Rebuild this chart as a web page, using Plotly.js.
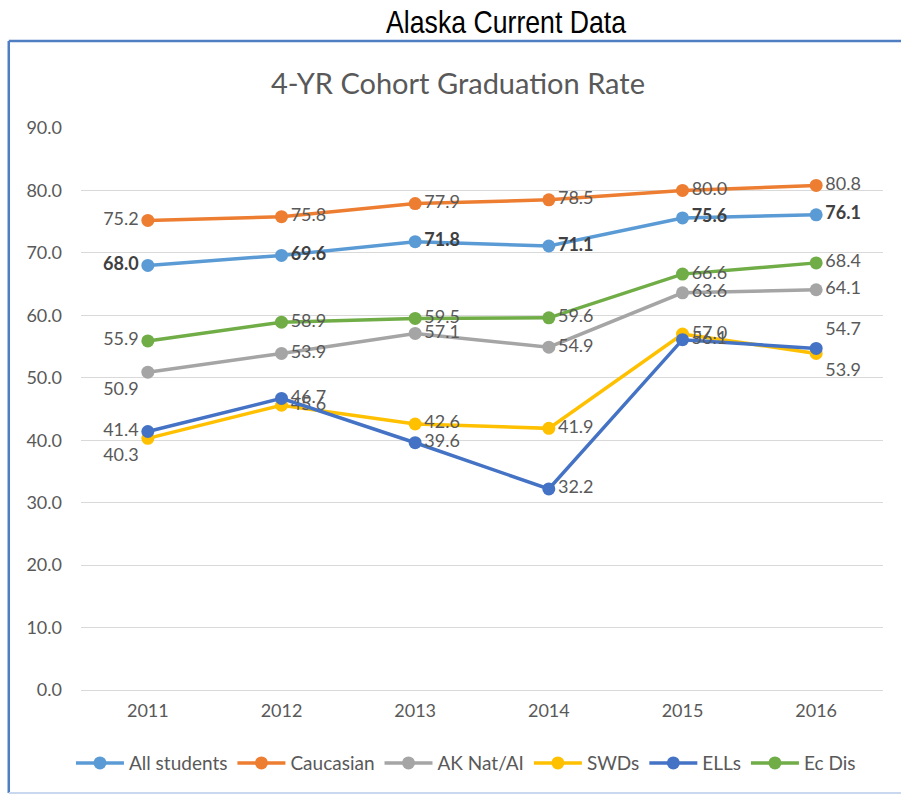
<!DOCTYPE html>
<html>
<head>
<meta charset="utf-8">
<script src="https://cdn.plot.ly/plotly-3.0.1.min.js"></script>
<style>
html,body{margin:0;padding:0;background:#fff;}
#chart{width:901px;height:796px;}
</style>
</head>
<body>
<div id="chart"></div>
<script>
const years = ["2011", "2012", "2013", "2014", "2015", "2016"];
const seriesNames = ["All students", "Caucasian", "AK Nat/AI", "SWDs", "ELLs", "Ec Dis"];
const allStudents = [68.0, 69.6, 71.8, 71.1, 75.6, 76.1];
const caucasian = [75.2, 75.8, 77.9, 78.5, 80.0, 80.8];
const akNat = [50.9, 53.9, 57.1, 54.9, 63.6, 64.1];
const swds = [40.3, 45.6, 42.6, 41.9, 57.0, 53.9];
const ells = [41.4, 46.7, 39.6, 32.2, 56.1, 54.7];
const ecDis = [55.9, 58.9, 59.5, 59.6, 66.6, 68.4];
const yTicks = [0, 10, 20, 30, 40, 50, 60, 70, 80, 90];

const colors = ["#5B9BD5", "#ED7D31", "#A5A5A5", "#FFC000", "#4472C4", "#70AD47"];
const values = [allStudents, caucasian, akNat, swds, ells, ecDis];
const R = "middle right", L = "middle left";
const positions = [
  [L, R, R, R, R, R],
  [L, R, R, R, R, R],
  ["bottom left", R, R, R, R, R],
  ["bottom left", R, R, R, R, "bottom right"],
  [L, R, R, R, R, "top right"],
  [L, R, R, R, R, R]
];

const traces = values.map((v, i) => ({
  x: years,
  y: v,
  name: seriesNames[i],
  type: "scatter",
  mode: "lines+markers+text",
  line: {color: colors[i], width: 3.5},
  marker: {color: colors[i], size: 13},
  text: v.map(d => i === 0 ? "<b>" + d.toFixed(1) + "</b>" : d.toFixed(1)),
  textposition: positions[i],
  textfont: {family: "Lato, 'Open Sans', sans-serif", size: 18, color: i === 0 ? "#404040" : "#595959"},
  cliponaxis: false
}));

const layout = {
  width: 901,
  height: 796,
  margin: {l: 81.2, r: 18.2, t: 128, b: 106},
  paper_bgcolor: "#ffffff",
  plot_bgcolor: "#ffffff",
  showlegend: true,
  title: {
    text: "Alaska Current Data",
    x: 506 / 901, xanchor: "center", xref: "container",
    y: 1 - 22 / 796, yanchor: "middle", yref: "container",
    font: {family: "'Liberation Sans', Arial, sans-serif", size: 31, color: "#000000"}
  },
  xaxis: {
    type: "category",
    range: [-0.5, 5.5],
    showgrid: false,
    zeroline: false,
    showline: false,
    ticks: "",
    tickfont: {family: "Lato, 'Open Sans', sans-serif", size: 18, color: "#595959"},
    ticklabelstandoff: 8
  },
  yaxis: {
    range: [0, 90],
    tickvals: yTicks,
    ticktext: yTicks.map(t => t.toFixed(1)),
    showgrid: true,
    gridcolor: "#D9D9D9",
    gridwidth: 1,
    zeroline: true,
    zerolinecolor: "#D9D9D9",
    zerolinewidth: 1,
    showline: false,
    ticks: "",
    tickfont: {family: "Lato, 'Open Sans', sans-serif", size: 18, color: "#595959"},
    ticklabelstandoff: 18
  },
  legend: {
    orientation: "h",
    x: 0.48, xanchor: "center",
    y: -0.13, yanchor: "middle",
    font: {family: "Lato, 'Open Sans', sans-serif", size: 19, color: "#595959"},
    itemwidth: 48,
    tracegroupgap: 0
  },
  annotations: [{
    text: "4-YR Cohort Graduation Rate",
    xref: "paper", yref: "paper",
    x: (458 - 81.2) / 801.6, y: (690 - 83) / 562,
    xanchor: "center", yanchor: "middle",
    showarrow: false,
    font: {family: "Lato, 'Open Sans', sans-serif", size: 29, color: "#595959"}
  }],
  shapes: [
    {type: "line", xref: "paper", yref: "paper", x0: (9 - 81.2) / 801.6, x1: (905 - 81.2) / 801.6, y0: (690 - 41) / 562, y1: (690 - 41) / 562, line: {color: "#4F7EC2", width: 2.5}},
    {type: "line", xref: "paper", yref: "paper", x0: (9 - 81.2) / 801.6, x1: (9 - 81.2) / 801.6, y0: (690 - 41) / 562, y1: (690 - 793) / 562, line: {color: "#4F7EC2", width: 2.5}},
    {type: "line", xref: "paper", yref: "paper", x0: (9 - 81.2) / 801.6, x1: (905 - 81.2) / 801.6, y0: (690 - 793) / 562, y1: (690 - 793) / 562, line: {color: "#C9D8EE", width: 2}}
  ]
};

Plotly.newPlot("chart", traces, layout, {displayModeBar: false, staticPlot: true}).then(gd => {
  // narrow the main title horizontally to mimic a condensed face
  const t = gd.querySelector(".gtitle");
  if (t) {
    const bb = t.getBBox();
    const cx = bb.x + bb.width / 2;
    t.setAttribute("transform", "translate(" + cx + ",0) scale(0.86,1) translate(" + (-cx) + ",0)");
  }
});
</script>
</body>
</html>
